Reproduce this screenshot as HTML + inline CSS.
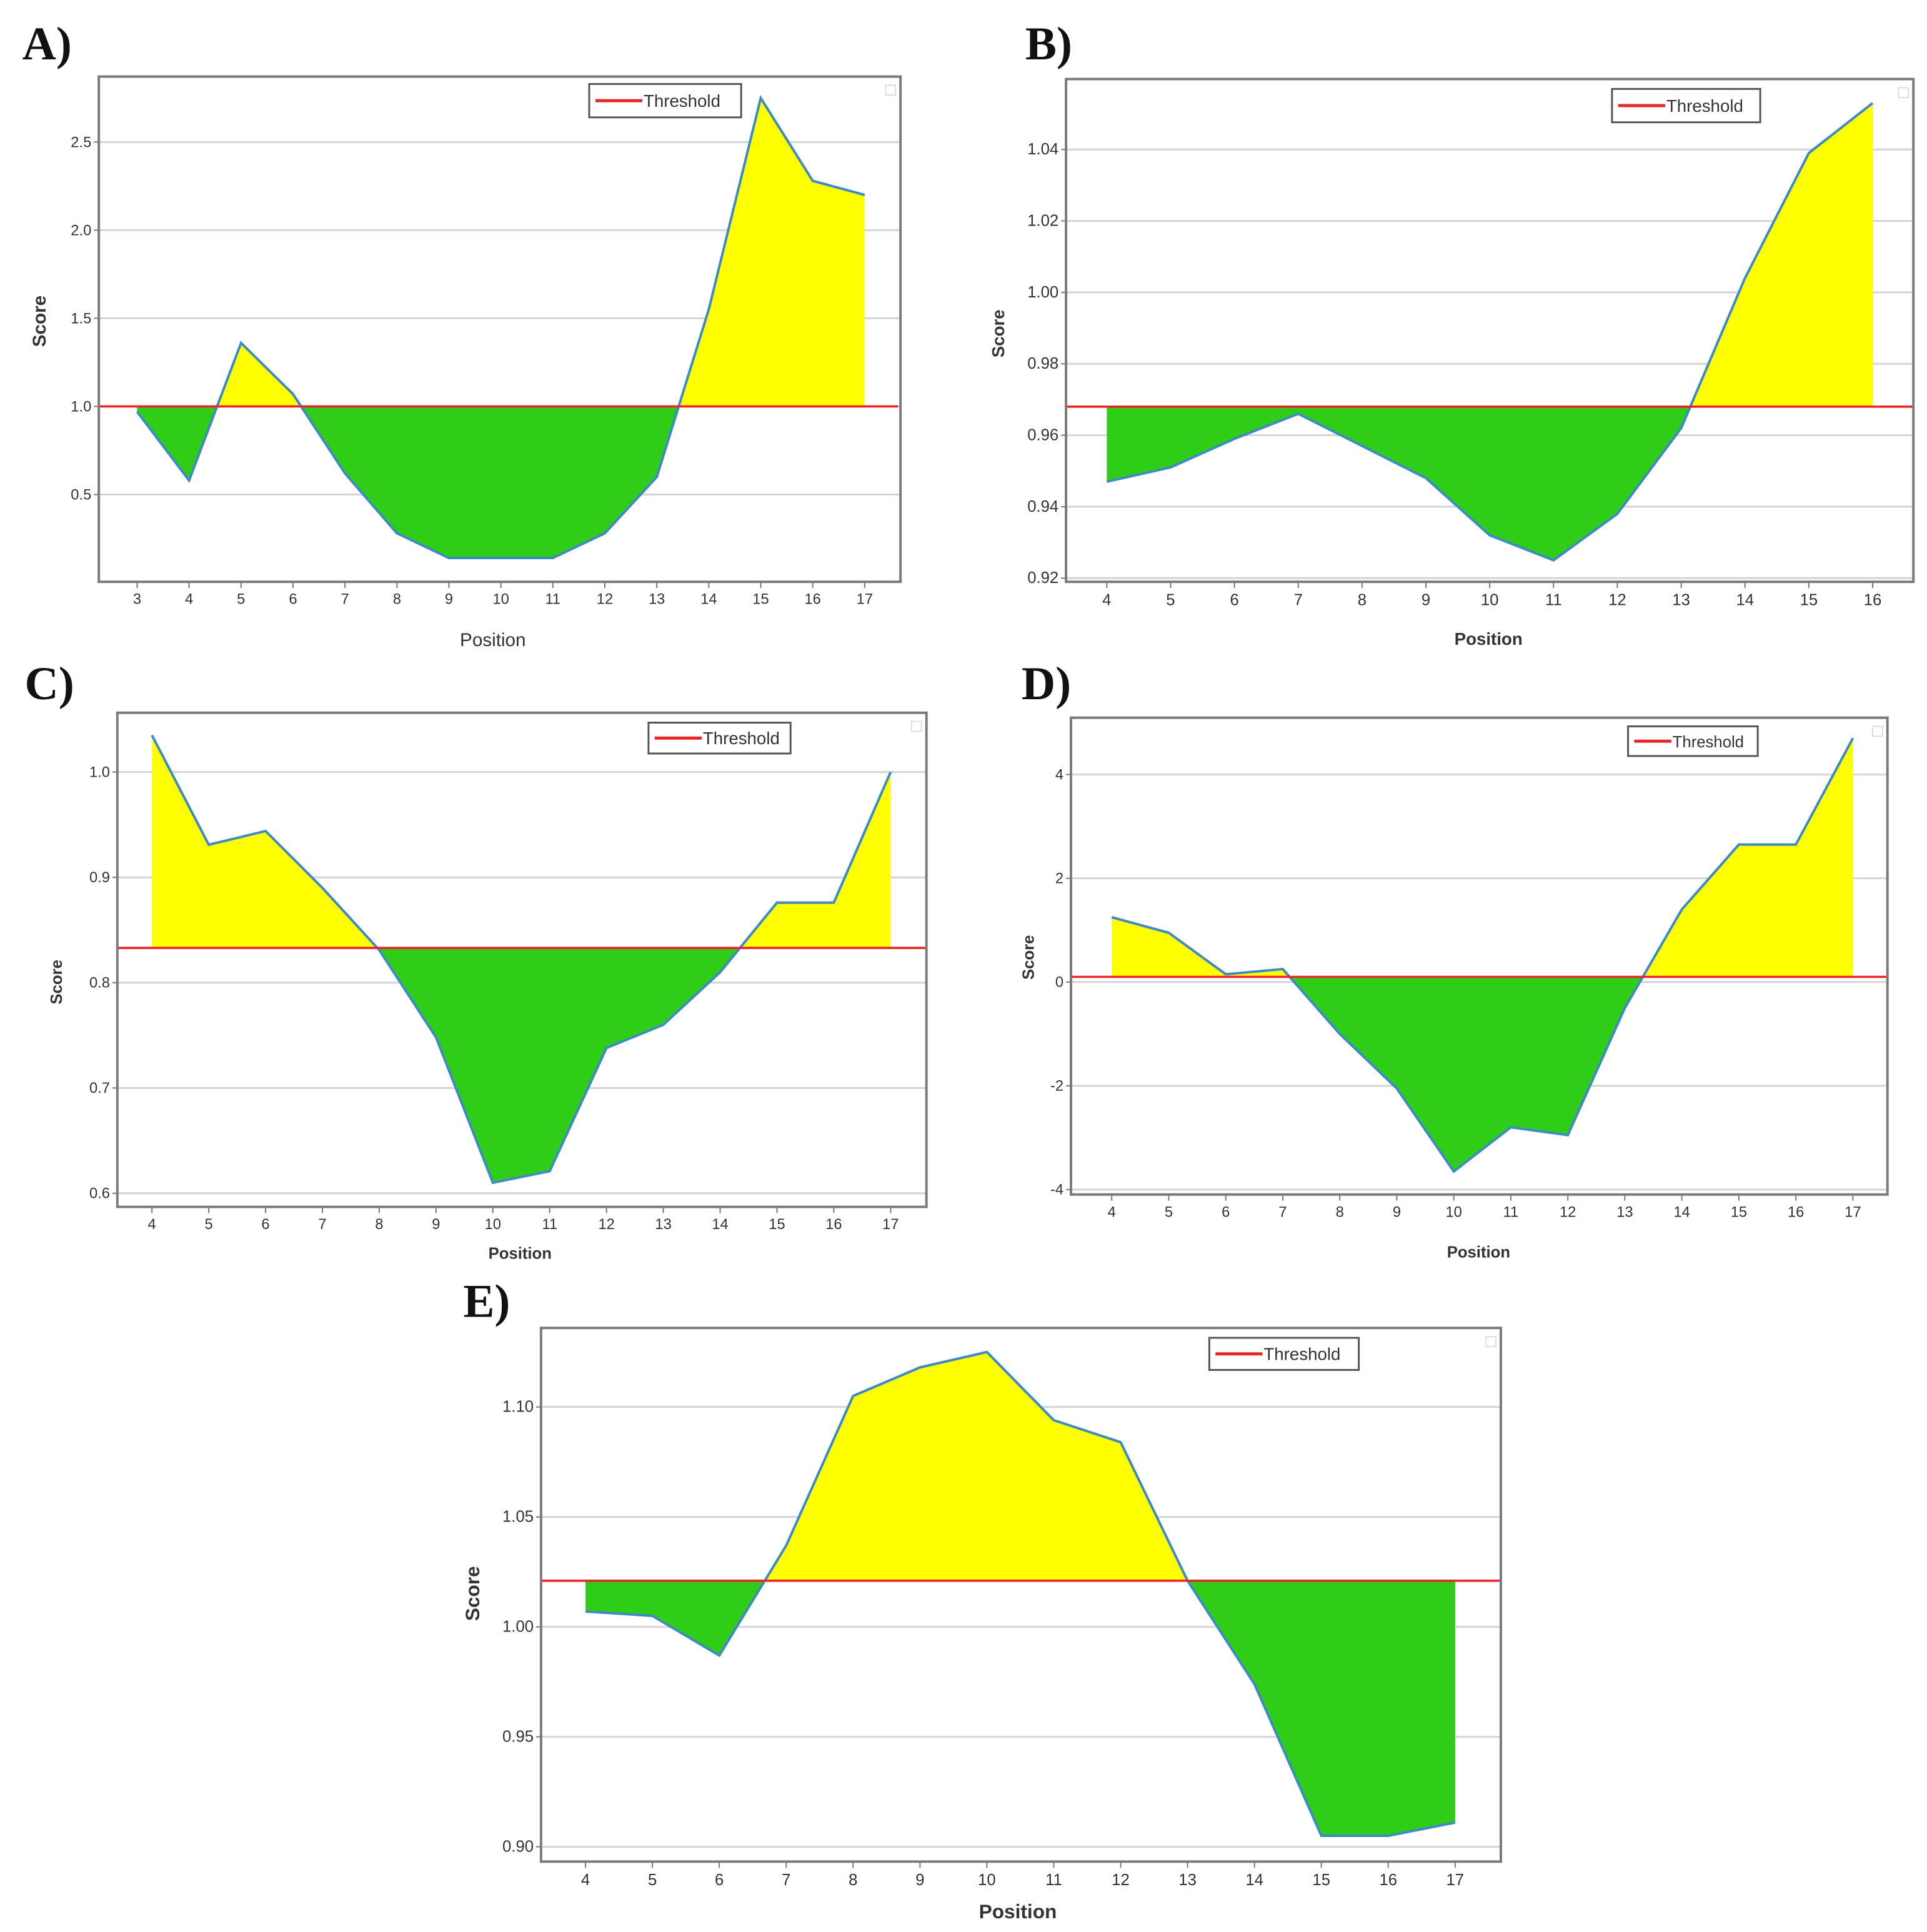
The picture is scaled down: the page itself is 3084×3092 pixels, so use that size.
<!DOCTYPE html>
<html><head><meta charset="utf-8"><style>
html,body{margin:0;padding:0;background:#fff;}
svg{display:block;}
</style></head><body>
<svg id="fig" width="3084" height="3092" viewBox="0 0 1560 1564" preserveAspectRatio="none" xmlns="http://www.w3.org/2000/svg" font-family="Liberation Sans, DejaVu Sans, sans-serif"></svg>
<script>
const aPositions=[3,4,5,6,7,8,9,10,11,12,13,14,15,16,17];
const aScores=[0.97,0.58,1.36,1.07,0.62,0.28,0.14,0.14,0.14,0.28,0.6,1.55,2.75,2.28,2.2];
const aThreshold=1.0;
const aYTicks=[0.5,1.0,1.5,2.0,2.5];
const aYLabels=["0.5","1.0","1.5","2.0","2.5"];

const bPositions=[4,5,6,7,8,9,10,11,12,13,14,15,16];
const bScores=[0.947,0.951,0.959,0.966,0.957,0.948,0.932,0.925,0.938,0.962,1.004,1.039,1.053];
const bThreshold=0.968;
const bYTicks=[0.92,0.94,0.96,0.98,1.00,1.02,1.04];
const bYLabels=["0.92","0.94","0.96","0.98","1.00","1.02","1.04"];

const cPositions=[4,5,6,7,8,9,10,11,12,13,14,15,16,17];
const cScores=[1.035,0.931,0.944,0.89,0.831,0.748,0.61,0.621,0.738,0.76,0.81,0.876,0.876,1.0];
const cThreshold=0.833;
const cYTicks=[0.6,0.7,0.8,0.9,1.0];
const cYLabels=["0.6","0.7","0.8","0.9","1.0"];

const dPositions=[4,5,6,7,8,9,10,11,12,13,14,15,16,17];
const dScores=[1.25,0.95,0.15,0.25,-1.0,-2.05,-3.65,-2.8,-2.95,-0.5,1.4,2.65,2.65,4.7];
const dThreshold=0.1;
const dYTicks=[-4,-2,0,2,4];
const dYLabels=["-4","-2","0","2","4"];

const ePositions=[4,5,6,7,8,9,10,11,12,13,14,15,16,17];
const eScores=[1.007,1.005,0.987,1.037,1.105,1.118,1.125,1.094,1.084,1.021,0.974,0.905,0.905,0.911];
const eThreshold=1.021;
const eYTicks=[0.90,0.95,1.00,1.05,1.10];
const eYLabels=["0.90","0.95","1.00","1.05","1.10"];

const NS="http://www.w3.org/2000/svg";
const svg=document.getElementById('fig');
function mk(tag,attrs,parent){const e=document.createElementNS(NS,tag);for(const k in attrs)e.setAttribute(k,attrs[k]);(parent||svg).appendChild(e);return e;}

function panel(cfg){
  const g=mk('g',{});
  
  
  const L=cfg.box[0],T=cfg.box[1],R=cfg.box[2],B=cfg.box[3];
  const xs=v=>cfg.x0px+(v-cfg.x0v)*(cfg.x1px-cfg.x0px)/(cfg.x1v-cfg.x0v);
  const ys=v=>cfg.y0px+(v-cfg.y0v)*(cfg.y1px-cfg.y0px)/(cfg.y1v-cfg.y0v);
  const lab=mk('text',{x:cfg.lab[0],y:cfg.lab[1],'font-family':'Liberation Serif, serif','font-size':38,'font-weight':'bold',fill:'#111'},g);
  lab.textContent=cfg.id.toUpperCase()+')';
  
  
  mk('rect',{x:L,y:T,width:R-L,height:B-T,fill:'#fff'},g);
  cfg.yt.forEach((t,i)=>{
    const y=ys(t);
    const gl=mk('line',{x1:L,x2:R,y1:y,y2:y,stroke:'#d4d4d4','stroke-width':1.5},g);
    
    
    mk('line',{x1:L-4,x2:L,y1:y,y2:y,stroke:'#777','stroke-width':1},g);
    const tx=mk('text',{x:L-6,y:y+4,'text-anchor':'end','font-size':cfg.fs,fill:'#333'},g);
    tx.textContent=cfg.yl[i];
    
    
  });
  const thr=ys(cfg.thr);
  const pts=cfg.px.map((p,i)=>xs(p)+','+ys(cfg.sc[i]));
  const x0=xs(cfg.px[0]),x1=xs(cfg.px[cfg.px.length-1]);
  const poly=pts.join(' ')+' '+x1+','+thr+' '+x0+','+thr;
  const cid='c'+cfg.id;
  const defs=mk('defs',{},g);
  const ca=mk('clipPath',{id:cid+'a'},defs);mk('rect',{x:L,y:T,width:R-L,height:thr-T},ca);
  const cb=mk('clipPath',{id:cid+'b'},defs);mk('rect',{x:L,y:thr,width:R-L,height:B-thr},cb);
  const ya=mk('polygon',{points:poly,fill:'#ffff00','clip-path':'url(#'+cid+'a)'},g);
  
  
  const gr=mk('polygon',{points:poly,fill:'#2fcc18','clip-path':'url(#'+cid+'b)'},g);
  
  
  const ln=mk('polyline',{points:pts.join(' '),fill:'none',stroke:'#3d8ac4','stroke-width':2},g);
  
  
  const tl=mk('line',{x1:L,x2:cfg.thrEnd||R,y1:thr,y2:thr,stroke:'#e8262a','stroke-width':1.8},g);
  
  
  const bx=mk('rect',{x:L,y:T,width:R-L,height:B-T,fill:'none',stroke:'#7a7a7a','stroke-width':2},g);
  
  
  mk('rect',{x:R-12,y:T+7,width:8,height:8,fill:'none',stroke:'#ddd','stroke-width':1},g);
  cfg.px.forEach(p=>{
    const x=xs(p);
    mk('line',{x1:x,x2:x,y1:B,y2:B+5,stroke:'#777','stroke-width':1},g);
    const tx=mk('text',{x:x,y:B+cfg.fs+6,'text-anchor':'middle','font-size':cfg.fs,fill:'#333'},g);
    tx.textContent=String(p);
    
    
  });
  const xt=mk('text',{x:cfg.xt[0],y:cfg.xt[1],'text-anchor':'middle','font-size':cfg.tfs,'font-weight':cfg.bold?'bold':'normal',fill:'#333'},g);
  xt.textContent='Position';
  
  
  const yt=mk('text',{x:cfg.yT[0],y:cfg.yT[1],'text-anchor':'middle','font-size':cfg.tfs,'font-weight':'bold',fill:'#333',transform:'rotate(-90 '+cfg.yT[0]+' '+cfg.yT[1]+')'},g);
  yt.textContent='Score';
  
  
  const lg=mk('g',{},g);
  
  
  const [lx,ly,lx2,ly2]=cfg.leg;
  mk('rect',{x:lx,y:ly,width:lx2-lx,height:ly2-ly,fill:'#fff',stroke:'#555','stroke-width':1.5},lg);
  const my=(ly+ly2)/2;
  const lw=(lx2-lx)<110?30:38;
  mk('line',{x1:lx+5,x2:lx+5+lw,y1:my,y2:my,stroke:'#e8262a','stroke-width':2.5},lg);
  const lt=mk('text',{x:lx+6+lw,y:my+5,'font-size':(lx2-lx)<110?13:14,fill:'#333'},lg);
  lt.textContent='Threshold';
  
  
}

panel({id:'a',box:[80,62,729,471],lab:[18,48],px:aPositions,sc:aScores,thr:aThreshold,yt:aYTicks,yl:aYLabels,
  x0v:3,x1v:17,x0px:111,x1px:700,y0v:1.0,y1v:2.5,y0px:329,y1px:115,fs:12,tfs:15,bold:false,xt:[399,523],yT:[37,260],leg:[477,68,600,95],thrEnd:727});
panel({id:'b',box:[863,64,1549,471],lab:[830,48],px:bPositions,sc:bScores,thr:bThreshold,yt:bYTicks,yl:bYLabels,
  x0v:4,x1v:16,x0px:896,x1px:1516,y0v:0.92,y1v:1.04,y0px:468,y1px:121,fs:13,tfs:14,bold:true,xt:[1205,522],yT:[813,270],leg:[1305,72,1425,99]});
panel({id:'c',box:[95,577,750,977],lab:[20,566],px:cPositions,sc:cScores,thr:cThreshold,yt:cYTicks,yl:cYLabels,
  x0v:4,x1v:17,x0px:123,x1px:721,y0v:0.6,y1v:1.0,y0px:966,y1px:625,fs:12,tfs:13,bold:true,xt:[421,1019],yT:[50,795],leg:[525,585,640,610]});
panel({id:'d',box:[867,581,1528,967],lab:[827,566],px:dPositions,sc:dScores,thr:dThreshold,yt:dYTicks,yl:dYLabels,
  x0v:4,x1v:17,x0px:900,x1px:1500,y0v:-4,y1v:4,y0px:963,y1px:627,fs:12,tfs:13,bold:true,xt:[1197,1018],yT:[837,775],leg:[1318,588,1423,612]});
panel({id:'e',box:[438,1075,1215,1507],lab:[375,1066],px:ePositions,sc:eScores,thr:eThreshold,yt:eYTicks,yl:eYLabels,
  x0v:4,x1v:17,x0px:474,x1px:1178,y0v:0.90,y1v:1.10,y0px:1495,y1px:1139,fs:13,tfs:16,bold:true,xt:[824,1553],yT:[388,1290],leg:[979,1083,1100,1109]});
</script>
</body></html>
